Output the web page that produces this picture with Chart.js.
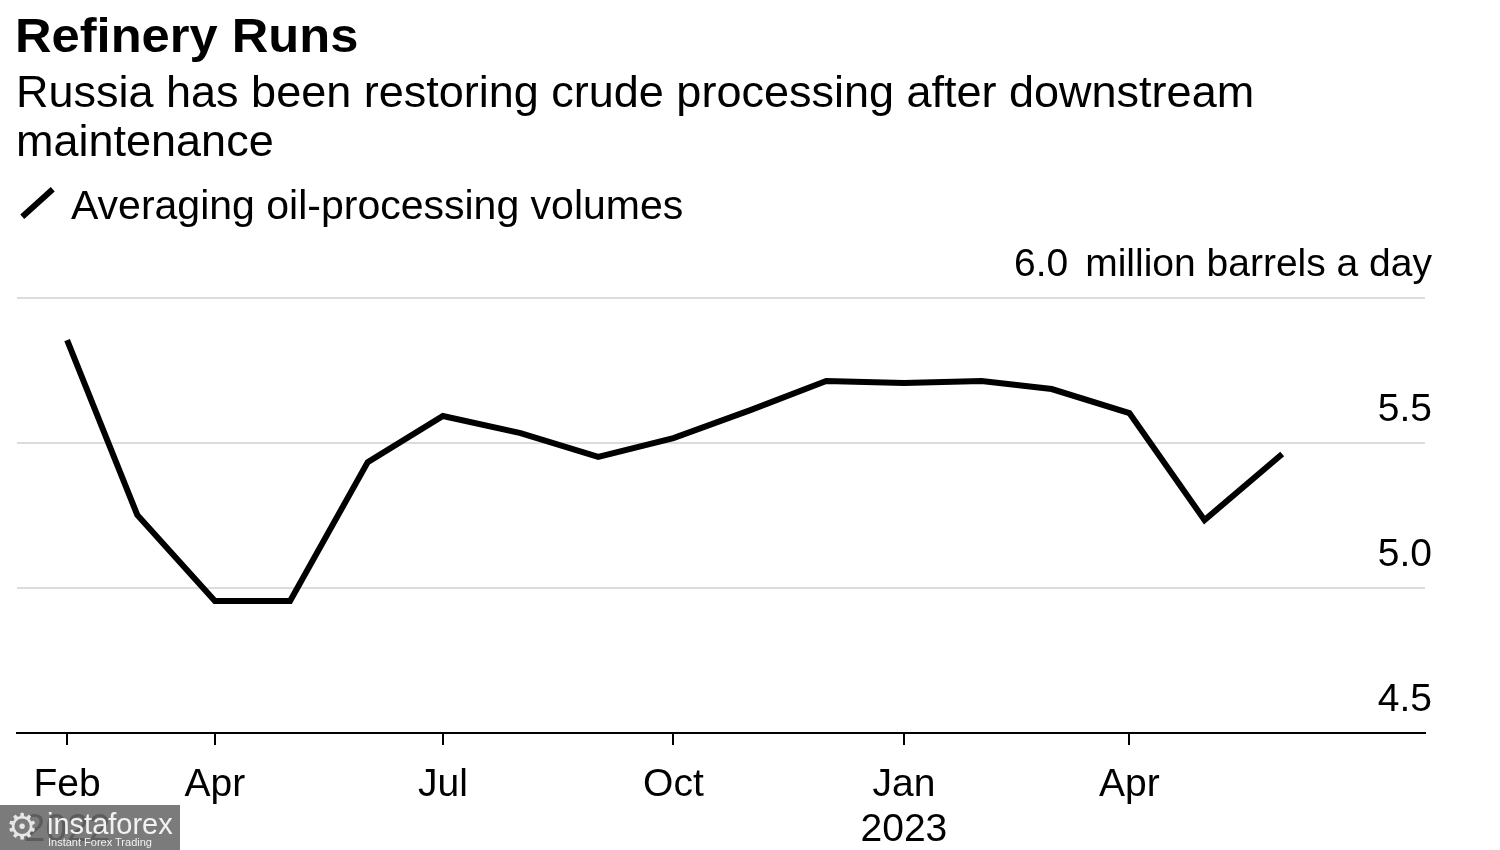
<!DOCTYPE html>
<html lang="en">
<head>
<meta charset="UTF-8">
<title>Refinery Runs</title>
<script src="https://cdn.jsdelivr.net/npm/chart.js"></script>
<style>
  body {
    margin: 0;
    width: 1500px;
    height: 850px;
    background: #fff;
    color: #000;
    font-family: 'Liberation Sans', Arial, sans-serif;
    position: relative;
    overflow: hidden;
  }
  #chart { position: absolute; left: 0; top: 0; }
  .title {
    position: absolute; left: 15px; top: 12px;
    font-size: 48px; line-height: 48px; font-weight: bold;
    transform: scaleX(1.055); transform-origin: left top; white-space: nowrap;
  }
  .subtitle {
    position: absolute; left: 16px; top: 67px;
    font-size: 45px; line-height: 49px; white-space: nowrap;
  }
  .legend {
    position: absolute; left: 17px; top: 185px;
    font-size: 41px; line-height: 40px;
  }
  .legend .swatch {
    position: absolute; left: 0; top: 15px;
    width: 41px; height: 6px; background: #000;
    transform: rotate(-42deg);
  }
  .legend .text { position: absolute; left: 54px; top: 0; white-space: nowrap; }
  /* watermark box bottom-left */
  .wm {
    position: absolute; left: 0; top: 805px; width: 180px; height: 45px;
    background: rgba(105, 105, 105, 0.88); color: #f2f2f2; overflow: hidden;
  }
  .wm .gear { position: absolute; left: 6px; top: 2px; font-size: 36px; line-height: 40px; font-family: 'DejaVu Sans', sans-serif; color: #e6e6e6; }
  .wm .main { position: absolute; left: 47px; top: 3px; font-size: 29px; line-height: 32px; }
  .wm .sub { position: absolute; left: 48px; top: 31px; font-size: 11px; line-height: 12px; }
</style>
</head>
<body>
<canvas id="chart" width="1500" height="850"></canvas>

<div class="title">Refinery Runs</div>
<div class="subtitle">Russia has been restoring crude processing after downstream<br>maintenance</div>
<div class="legend"><span class="swatch"></span><span class="text">Averaging oil-processing volumes</span></div>

<div class="wm"><span class="gear">&#9881;</span><span class="main">instaforex</span><span class="sub">Instant Forex Trading</span></div>

<script>
// monthly points, Feb 2022 - Jun 2023 (million barrels a day)
const dates = [
  '2022-02-01', '2022-03-01', '2022-04-01', '2022-05-01', '2022-06-01', '2022-07-01',
  '2022-08-01', '2022-09-01', '2022-10-01', '2022-11-01', '2022-12-01', '2023-01-01',
  '2023-02-01', '2023-03-01', '2023-04-01', '2023-05-01', '2023-06-01'
];
const runs = [
  5.855, 5.252, 4.955, 4.955, 5.434, 5.593,
  5.534, 5.452, 5.517, 5.614, 5.714, 5.707,
  5.714, 5.686, 5.603, 5.234, 5.462
];
const tickDates = ['2022-02-01', '2022-04-01', '2022-07-01', '2022-10-01', '2023-01-01', '2023-04-01'];
const tickLabels = [['Feb', '2022'], 'Apr', 'Jul', 'Oct', ['Jan', '2023'], 'Apr'];
const yTicks = [4.5, 5.0, 5.5, 6.0];
const unitLabel = 'million barrels a day';

const FONT = "'Liberation Sans', Arial, sans-serif";
const start = Date.UTC(2022, 1, 1);
const dayNum = (s) => {
  const [y, m, d] = s.split('-').map(Number);
  return (Date.UTC(y, m - 1, d) - start) / 86400000;
};

// right-side value labels sitting above each gridline
const yLabels = {
  id: 'yLabels',
  afterDraw(chart) {
    const { ctx, chartArea } = chart;
    const y = chart.scales.y;
    const right = chartArea.right + 7;
    ctx.save();
    ctx.font = '39px ' + FONT;
    ctx.fillStyle = '#000';
    ctx.textAlign = 'right';
    ctx.textBaseline = 'middle';
    yTicks.forEach((v, i) => {
      const py = y.getPixelForValue(v) - 33;
      if (i === yTicks.length - 1) {
        ctx.fillText(unitLabel, right, py);
        const w = ctx.measureText(unitLabel).width;
        ctx.fillText(v.toFixed(1), right - w - 17, py);
      } else {
        ctx.fillText(v.toFixed(1), right, py);
      }
    });
    ctx.restore();
  }
};

new Chart(document.getElementById('chart'), {
  type: 'line',
  data: {
    datasets: [{
      label: 'Averaging oil-processing volumes',
      data: dates.map((d, i) => ({ x: dayNum(d), y: runs[i] })),
      borderColor: '#000',
      borderWidth: 6,
      pointRadius: 0,
      tension: 0,
      fill: false,
      borderJoinStyle: 'miter'
    }]
  },
  options: {
    responsive: false,
    animation: false,
    layout: { padding: { left: 17, right: 75, top: 298, bottom: 0 } },
    plugins: {
      legend: { display: false },
      tooltip: { enabled: false }
    },
    scales: {
      x: {
        type: 'linear',
        min: -20,
        max: 542,
        afterBuildTicks: (s) => { s.ticks = tickDates.map((d) => ({ value: dayNum(d) })); },
        afterFit: (s) => { s.height = 117; },
        grid: { drawOnChartArea: false, drawTicks: true, tickLength: 12, color: '#000', lineWidth: 2 },
        border: { display: true, color: '#000', width: 2 },
        ticks: {
          autoSkip: false,
          maxRotation: 0,
          padding: 18,
          color: '#000',
          font: { family: FONT, size: 39, lineHeight: 1.15 },
          callback: (v, i) => tickLabels[i]
        }
      },
      y: {
        position: 'right',
        min: 4.5,
        max: 6.0,
        afterBuildTicks: (s) => { s.ticks = yTicks.map((v) => ({ value: v })); },
        afterFit: (s) => { s.width = 0; },
        grid: {
          drawTicks: false,
          lineWidth: 2,
          color: (c) => (c.tick && c.tick.value === 4.5 ? 'rgba(0,0,0,0)' : '#dcdcdc')
        },
        border: { display: false },
        ticks: { display: false }
      }
    }
  },
  plugins: [yLabels]
});
</script>
</body>
</html>
